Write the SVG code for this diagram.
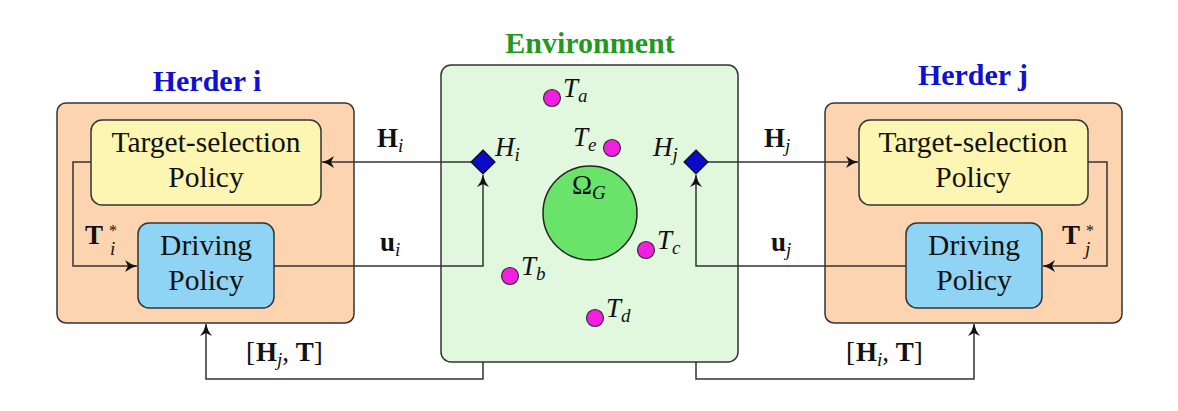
<svg xmlns="http://www.w3.org/2000/svg" width="1178" height="411" viewBox="0 0 1178 411">
<style>
.herder{fill:#fcd5b0;stroke:#333;stroke-width:1.5}
.tsel{fill:#fdf6b2;stroke:#333;stroke-width:1.5}
.drive{fill:#8fd4f4;stroke:#333;stroke-width:1.5}
.env{fill:#e2f8de;stroke:#333;stroke-width:1.5}
.goal{fill:#6ae36a;stroke:#222;stroke-width:1.5}
.tgt{fill:#f21ee0;stroke:#333;stroke-width:1.2}
.dia{fill:#0a0ac8;stroke:#111;stroke-width:1.2}
.conn{fill:none;stroke:#333;stroke-width:1.5}
text{font-family:'Liberation Serif','Times New Roman','DejaVu Serif',serif}
.body{font-size:29.5px;fill:#111;text-anchor:middle}
.title{font-size:30px;font-weight:bold;text-anchor:middle}
.m{font-size:27px;fill:#111}
.b{font-weight:bold}
.it{font-style:italic}
.sub{font-style:italic;font-size:19px}
</style>
<defs>
<marker id="arr" markerUnits="userSpaceOnUse" markerWidth="16" markerHeight="14" viewBox="-14 -7 16 14" refX="0" refY="0" orient="auto">
<path d="M0,0 Q-7,-1.8 -12,-6 L-9,0 L-12,6 Q-7,1.8 0,0 Z" fill="#111"/>
</marker>
</defs>

<g id="herder-i">
<rect class="herder" x="57" y="103" width="297" height="220" rx="9"/>
<text class="title" x="207" y="91" fill="#1010d0">Herder i</text>
</g>
<g id="herder-j">
<rect class="herder" x="825" y="103" width="297" height="220" rx="9"/>
<text class="title" x="973" y="85" fill="#1010d0">Herder j</text>
</g>
<g id="environment">
<rect class="env" x="441" y="65" width="297" height="297" rx="10"/>
<text class="title" x="590" y="53" fill="#1f9a1f">Environment</text>
</g>
<g id="target-selection-i">
<rect class="tsel" x="91" y="120" width="230" height="85" rx="11"/>
<text class="body" x="206" y="152">Target-selection</text>
<text class="body" x="206" y="187">Policy</text>
</g>
<g id="driving-i">
<rect class="drive" x="138" y="223" width="136" height="85" rx="11"/>
<text class="body" x="206" y="255">Driving</text>
<text class="body" x="206" y="290">Policy</text>
</g>
<g id="target-selection-j">
<rect class="tsel" x="859" y="120" width="229" height="85" rx="11"/>
<text class="body" x="973" y="152">Target-selection</text>
<text class="body" x="973" y="187">Policy</text>
</g>
<g id="driving-j">
<rect class="drive" x="906" y="223" width="136" height="85" rx="11"/>
<text class="body" x="974" y="255">Driving</text>
<text class="body" x="974" y="290">Policy</text>
</g>

<g id="connectors">
<path class="conn" d="M483,162 H322" marker-end="url(#arr)"/>
<path class="conn" d="M91,162 H73 V266 H137" marker-end="url(#arr)"/>
<path class="conn" d="M274,266 H483 V175" marker-end="url(#arr)"/>
<path class="conn" d="M483,362 V379 H206 V324" marker-end="url(#arr)"/>
<path class="conn" d="M696,162 H858" marker-end="url(#arr)"/>
<path class="conn" d="M1088,162 H1107 V266 H1043" marker-end="url(#arr)"/>
<path class="conn" d="M906,266 H696 V175" marker-end="url(#arr)"/>
<path class="conn" d="M696,362 V379 H974 V324" marker-end="url(#arr)"/>
<text class="m" x="377" y="147"><tspan class="b">H</tspan><tspan class="sub" dy="5">i</tspan></text>
<text class="m" x="380" y="251"><tspan class="b">u</tspan><tspan class="sub" dy="5">i</tspan></text>
<text class="m" x="85" y="244"><tspan class="b">T</tspan><tspan x="109" dy="-8" font-size="16">*</tspan><tspan class="sub" x="110" dy="19">i</tspan></text>
<text class="m" x="764" y="147"><tspan class="b">H</tspan><tspan class="sub" dy="5">j</tspan></text>
<text class="m" x="771" y="251"><tspan class="b">u</tspan><tspan class="sub" dy="5">j</tspan></text>
<text class="m" x="1062" y="244"><tspan class="b">T</tspan><tspan x="1086" dy="-8" font-size="16">*</tspan><tspan class="sub" x="1085" dy="19">j</tspan></text>
<text class="m" x="246" y="361" font-size="29">[<tspan class="b" dx="1">H</tspan><tspan class="sub" dy="5">j</tspan><tspan dy="-5">, </tspan><tspan class="b">T</tspan>]</text>
<text class="m" x="846" y="361" font-size="29">[<tspan class="b" dx="1">H</tspan><tspan class="sub" dy="5">i</tspan><tspan dy="-5">, </tspan><tspan class="b">T</tspan>]</text>
</g>

<g id="goal">
<circle class="goal" cx="590" cy="213" r="47"/>
<text class="m" x="572" y="194" font-size="26">Ω<tspan class="sub" dy="5" font-size="18">G</tspan></text>
</g>
<g id="herder-i-pos">
<path class="dia" d="M483,150 L495,162 L483,174 L471,162 Z"/>
<text class="m it" x="495" y="156" font-size="26">H<tspan class="sub" dy="5" font-size="18">i</tspan></text>
</g>
<g id="herder-j-pos">
<path class="dia" d="M696,150 L708,162 L696,174 L684,162 Z"/>
<text class="m it" x="653" y="156" font-size="26">H<tspan class="sub" dy="5" font-size="18">j</tspan></text>
</g>
<g id="target-a">
<circle class="tgt" cx="552" cy="98" r="8.5"/>
<text class="m it" x="563" y="97" font-size="26">T<tspan class="sub" dy="5" font-size="18">a</tspan></text>
</g>
<g id="target-e">
<circle class="tgt" cx="612" cy="148" r="8.5"/>
<text class="m it" x="573" y="146" font-size="26">T<tspan class="sub" dy="5" font-size="18">e</tspan></text>
</g>
<g id="target-c">
<circle class="tgt" cx="646" cy="250" r="8.5"/>
<text class="m it" x="657" y="249" font-size="26">T<tspan class="sub" dy="5" font-size="18">c</tspan></text>
</g>
<g id="target-b">
<circle class="tgt" cx="510" cy="276" r="8.5"/>
<text class="m it" x="521" y="275" font-size="26">T<tspan class="sub" dy="5" font-size="18">b</tspan></text>
</g>
<g id="target-d">
<circle class="tgt" cx="595" cy="318" r="8.5"/>
<text class="m it" x="606" y="317" font-size="26">T<tspan class="sub" dy="5" font-size="18">d</tspan></text>
</g>
</svg>
